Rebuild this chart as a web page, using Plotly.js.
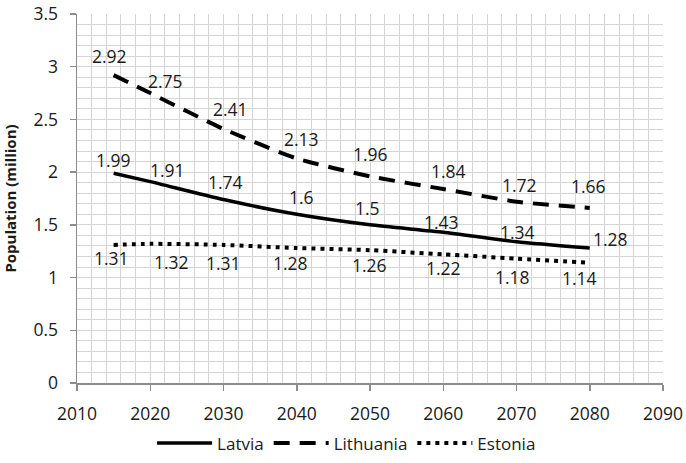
<!DOCTYPE html>
<html>
<head>
<meta charset="utf-8">
<script src="https://cdn.plot.ly/plotly-3.0.1.min.js"></script>
<style>html,body{margin:0;padding:0;background:#fff;}#chart{width:686px;height:463px;}</style>
</head>
<body>
<div id="chart"></div>
<script>
var years = [2015, 2020, 2030, 2040, 2050, 2060, 2070, 2080];
var latvia = [1.99, 1.91, 1.74, 1.6, 1.5, 1.43, 1.34, 1.28];
var lithuania = [2.92, 2.75, 2.41, 2.13, 1.96, 1.84, 1.72, 1.66];
var estonia = [1.31, 1.32, 1.31, 1.28, 1.26, 1.22, 1.18, 1.14];
var seriesNames = ['Latvia', 'Lithuania', 'Estonia'];

// label offsets in pixels (style only)
var latviaDx = [0, 17, 2, 5, -3, -2, 1, 21];
var latviaDy = [13, 12, 18, 17, 17, 10, 10, 9];
var lithDx = [-4, 15, 7, 5, 0, 5, 3, -1];
var lithDy = [19, 12, 20, 19, 22, 18, 17, 22];
var estDx = [-2, 21, 0, -6, -1, 0, -4, -10];
var estDy = [-13, -18, -18, -15, -15, -14, -18, -15];

var font = '"Open Sans", "Noto Sans", sans-serif';
var txtColor = '#1a1a1a';

var traces = [
  {x: years, y: latvia, name: seriesNames[0], mode: 'lines',
   line: {color: '#000', width: 3.5, shape: 'spline', smoothing: 0.6}},
  {x: years, y: lithuania, name: seriesNames[1], mode: 'lines',
   line: {color: '#000', width: 4, dash: '16px,10px', shape: 'spline', smoothing: 0.6}},
  {x: years, y: estonia, name: seriesNames[2], mode: 'lines',
   line: {color: '#000', width: 4, dash: '4px,5px', shape: 'spline', smoothing: 0.6}}
];

var annotations = [];
function addLabels(vals, dx, dy) {
  for (var i = 0; i < years.length; i++) {
    annotations.push({
      x: years[i], y: vals[i], xref: 'x', yref: 'y', text: String(vals[i]),
      showarrow: false, xanchor: 'center', yanchor: 'middle',
      xshift: dx[i], yshift: dy[i],
      font: {family: font, size: 17.5, color: txtColor}
    });
  }
}
addLabels(latvia, latviaDx, latviaDy);
addLabels(lithuania, lithDx, lithDy);
addLabels(estonia, estDx, estDy);

var gridc = '#d4d4d4';
var layout = {
  width: 686, height: 463,
  margin: {l: 77, r: 23, t: 14, b: 80},
  paper_bgcolor: '#fff', plot_bgcolor: '#fff',
  font: {family: font, size: 17.5, color: txtColor},
  showlegend: true,
  annotations: annotations,
  legend: {orientation: 'h', x: 0.46, xanchor: 'center', xref: 'paper',
           y: 0.042, yanchor: 'middle', yref: 'container',
           font: {family: font, size: 17, color: txtColor}, itemwidth: 55, traceorder: 'normal'},
  xaxis: {
    range: [2010, 2090], dtick: 10, tick0: 2010, automargin: false,
    showgrid: true, gridcolor: gridc, gridwidth: 1,
    minor: {dtick: 2, showgrid: true, gridcolor: gridc, gridwidth: 1},
    showline: true, linecolor: '#8c8c8c', linewidth: 1.5,
    ticks: 'outside', ticklen: 6, tickcolor: '#8c8c8c', tickwidth: 1.5,
    ticklabelstandoff: 8,
    zeroline: false, tickfont: {family: font, size: 17.5, color: txtColor}
  },
  yaxis: {
    range: [0, 3.5], dtick: 0.5, tick0: 0, automargin: false,
    showgrid: true, gridcolor: gridc, gridwidth: 1,
    minor: {dtick: 0.1, showgrid: true, gridcolor: gridc, gridwidth: 1},
    showline: true, linecolor: '#8c8c8c', linewidth: 1.5,
    ticks: 'outside', ticklen: 6, tickcolor: '#8c8c8c', tickwidth: 1.5,
    ticklabelstandoff: 8,
    zeroline: false, tickfont: {family: font, size: 17.5, color: txtColor},
    title: {text: '<b>Population (million)</b>', font: {family: font, size: 15, color: txtColor}, standoff: 14}
  }
};

Plotly.newPlot('chart', traces, layout, {displayModeBar: false, staticPlot: true});
</script>
</body>
</html>
